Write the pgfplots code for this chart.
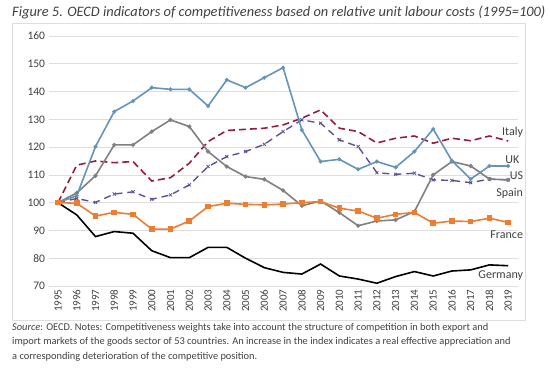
\documentclass[border=0pt]{standalone}
\usepackage{pgfplots}
\usepackage{pgfplotstable}
\pgfplotsset{compat=1.18}
\usepackage{fontspec}
\setmainfont{Carlito}
\definecolor{ukc}{RGB}{100,148,186}
\definecolor{spc}{RGB}{128,128,128}
\definecolor{itc}{RGB}{150,30,60}
\definecolor{usc}{RGB}{96,78,150}
\definecolor{frc}{RGB}{237,125,49}
\definecolor{gridc}{RGB}{222,222,222}
\definecolor{txt}{RGB}{64,64,64}
\pgfplotstableread{
Year UK Spain Italy US France Germany
1995 100 100 100 100 100 100
1996 102.5 103.5 113.5 101.5 99.8 95.6
1997 120.2 109.7 115.0 100.1 95.2 87.8
1998 132.8 120.8 114.4 103.1 96.5 89.6
1999 136.6 120.8 114.8 103.9 95.8 89.0
2000 141.4 125.6 107.8 101.2 90.5 82.7
2001 140.8 129.8 109.0 102.8 90.5 80.2
2002 140.8 127.4 114.2 106.4 93.4 80.2
2003 134.8 118.4 122.0 113.0 98.6 83.9
2004 144.2 113.0 126.0 116.6 99.8 83.9
2005 141.4 109.4 126.4 118.4 99.4 80.0
2006 145.0 108.4 126.8 121.0 99.2 76.6
2007 148.6 104.4 128.0 125.6 99.5 74.9
2008 126.2 98.9 130.4 129.8 100.0 74.3
2009 114.8 100.6 133.4 128.6 100.4 77.9
2010 115.6 96.4 126.8 122.6 98.0 73.6
2011 112.0 91.7 125.6 120.2 97.0 72.5
2012 114.8 93.4 121.5 110.8 94.4 71.0
2013 112.7 93.8 123.2 110.2 95.8 73.4
2014 118.4 96.8 124.0 110.6 96.5 75.2
2015 126.5 110.0 121.4 108.2 92.6 73.6
2016 115.1 114.8 123.2 108.0 93.4 75.4
2017 108.5 113.2 122.3 107.2 93.2 75.8
2018 113.2 108.5 124.0 108.5 94.4 77.6
2019 113.2 108.2 122.2 108.2 92.9 77.3
}\data
\begin{document}
\begin{tikzpicture}[x=1pt,y=1pt]
\useasboundingbox (0,0) rectangle (550,370);
\draw[gridc, line width=0.6pt] (12,347) rectangle (525,50);
\node[anchor=base west, inner sep=0pt, font=\itshape\fontsize{14.4}{16}\selectfont, text=txt] at (12,353) {Figure 5. OECD indicators of competitiveness based on relative unit labour costs (1995=100)};
\begin{axis}[
  at={(48.6pt,84pt)}, anchor=south west,
  scale only axis, width=469pt, height=250pt,
  xmin=1994.5, xmax=2019.5, ymin=70, ymax=160,
  xtick={1995,...,2019}, ytick={70,80,...,160},
  /pgf/number format/1000 sep={},
  /pgf/number format/assume math mode=true,
  axis line style={draw=none},
  tick style={draw=none},
  ymajorgrids, grid style={gridc, line width=0.7pt},
  xticklabel style={rotate=90, anchor=east, font=\fontsize{11}{12}\selectfont, text=txt, xshift=0pt},
  yticklabel style={font=\fontsize{11.5}{12}\selectfont, text=txt},
  xtick pos=bottom, ytick pos=left,
  clip=false,
]
\addplot[itc, line width=1.6pt, dash pattern=on 7pt off 4pt] table[x=Year,y=Italy]{\data};
\addplot[usc, line width=1.4pt, dash pattern=on 7pt off 5pt, mark=x, mark size=2.2pt, mark options={solid, line width=0.8pt}] table[x=Year,y=US]{\data};
\addplot[spc, line width=1.6pt, mark=*, mark size=1.2pt] table[x=Year,y=Spain]{\data};
\addplot[ukc, line width=1.6pt, mark=*, mark size=1.1pt] table[x=Year,y=UK]{\data};
\addplot[frc, line width=1.6pt, mark=square*, mark size=2pt] table[x=Year,y=France]{\data};
\addplot[black, line width=1.6pt] table[x=Year,y=Germany]{\data};
\node[anchor=east, font=\fontsize{12}{13}\selectfont, text=txt, inner sep=0pt] at (axis cs:2019.8,125.2) {Italy};
\node[anchor=east, font=\fontsize{12}{13}\selectfont, text=txt, inner sep=0pt] at (axis cs:2019.6,115.4) {UK};
\node[anchor=east, font=\fontsize{12}{13}\selectfont, text=txt, inner sep=0pt] at (axis cs:2019.8,109.7) {US};
\node[anchor=east, font=\fontsize{12}{13}\selectfont, text=txt, inner sep=0pt] at (axis cs:2019.8,103.4) {Spain};
\node[anchor=east, font=\fontsize{12}{13}\selectfont, text=txt, inner sep=0pt] at (axis cs:2019.8,88.4) {France};
\node[anchor=east, font=\fontsize{12}{13}\selectfont, text=txt, inner sep=0pt] at (axis cs:2019.8,73.7) {Germany};
\end{axis}
\node[anchor=north west, inner sep=0pt, align=left, font=\fontsize{10.4}{14.5}\selectfont, text=txt] at (12,47) {\textit{Source}: OECD. Notes: Competitiveness weights take into account the structure of competition in both export and\\import markets of the goods sector of 53 countries. An increase in the index indicates a real effective appreciation and\\a corresponding deterioration of the competitive position.};
\end{tikzpicture}
\end{document}
